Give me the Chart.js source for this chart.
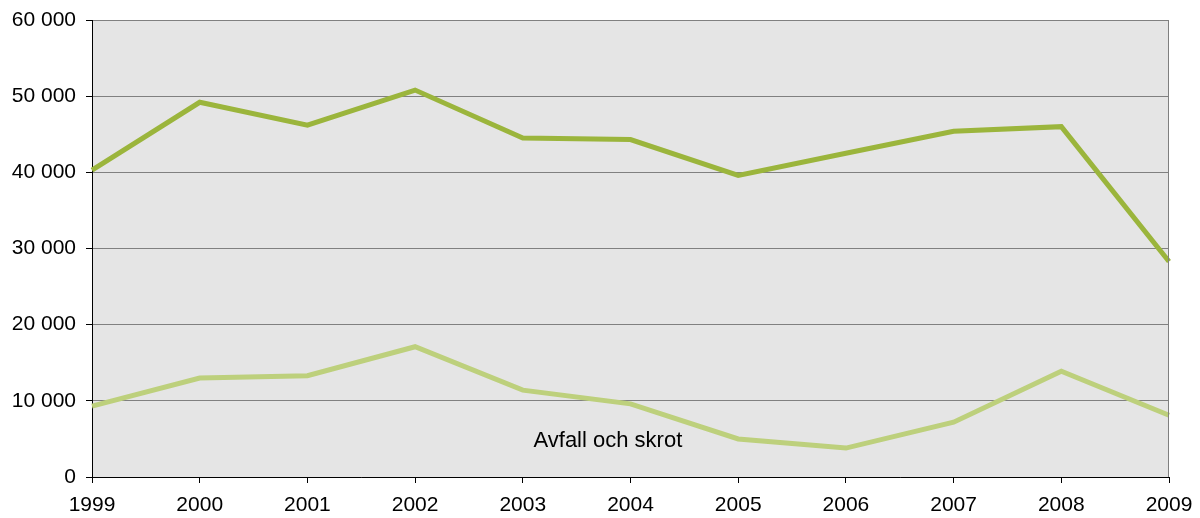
<!DOCTYPE html>
<html lang="sv">
<head>
  <meta charset="UTF-8" />
  <title>Avfall och skrot</title>
  <script src="https://cdn.jsdelivr.net/npm/chart.js"></script>
  <style>
    html, body { margin: 0; padding: 0; background: #ffffff; }
    #wrap { width: 1200px; height: 518px; }
  </style>
</head>
<body>
  <div id="wrap"><canvas id="chart"></canvas></div>
  <script>
    const years = ['1999', '2000', '2001', '2002', '2003', '2004', '2005', '2006', '2007', '2008', '2009'];
    const totalValues = [40300, 49200, 46200, 50800, 44500, 44300, 39600, 42500, 45400, 46000, 28300];
    const scrapValues = [9300, 13000, 13300, 17100, 11400, 9600, 5000, 3800, 7200, 13900, 8100];
    const scrapLabel = 'Avfall och skrot';
    const yTicks = [0, 10000, 20000, 30000, 40000, 50000, 60000];

    const fmt = v => String(v).replace(/\B(?=(\d{3})+(?!\d))/g, ' ');

    // grey plot background, right frame and in-chart series label
    const plotDecor = {
      id: 'plotDecor',
      beforeDraw(chart) {
        const { ctx, chartArea: a } = chart;
        ctx.save();
        ctx.fillStyle = '#e5e5e5';
        ctx.fillRect(a.left, a.top, a.right - a.left, a.bottom - a.top);
        ctx.restore();
      },
      afterDatasetsDraw(chart) {
        const { ctx, chartArea: a, scales } = chart;
        ctx.save();
        ctx.strokeStyle = '#7f7f7f';
        ctx.lineWidth = 1;
        ctx.beginPath();
        ctx.moveTo(a.right - 0.5, a.top);
        ctx.lineTo(a.right - 0.5, a.bottom);
        ctx.stroke();
        ctx.fillStyle = '#000000';
        ctx.font = '22px "Liberation Sans", Arial, sans-serif';
        ctx.textAlign = 'center';
        ctx.textBaseline = 'middle';
        ctx.fillText(scrapLabel, scales.x.getPixelForValue(4.79), scales.y.getPixelForValue(4700));
        ctx.restore();
      }
    };

    new Chart(document.getElementById('chart'), {
      type: 'line',
      data: {
        labels: years,
        datasets: [
          {
            label: 'Totalt',
            data: totalValues,
            borderColor: '#9bb53c',
            borderWidth: 5,
            pointRadius: 0,
            tension: 0
          },
          {
            label: scrapLabel,
            data: scrapValues,
            borderColor: '#bdd07c',
            borderWidth: 5,
            pointRadius: 0,
            tension: 0
          }
        ]
      },
      options: {
        responsive: true,
        maintainAspectRatio: false,
        animation: false,
        layout: { padding: { top: 20, right: 31, left: 0, bottom: 0 } },
        plugins: {
          legend: { display: false },
          tooltip: { enabled: false }
        },
        scales: {
          x: {
            offset: false,
            grid: { drawOnChartArea: false, drawTicks: true, tickLength: 6, color: '#000000' },
            border: { color: '#000000', width: 1 },
            ticks: {
              color: '#000000',
              padding: 10,
              maxRotation: 0,
              autoSkip: false,
              font: { family: '"Liberation Sans", Arial, sans-serif', size: 21 }
            },
            afterFit(scale) {
              scale.height = 41;
              scale.paddingLeft = 0;
              scale.paddingRight = 0;
            }
          },
          y: {
            min: 0,
            max: 60000,
            afterBuildTicks(scale) { scale.ticks = yTicks.map(v => ({ value: v })); },
            grid: { color: '#808080', lineWidth: 1, tickLength: 6, tickColor: '#000000' },
            border: { color: '#000000', width: 1 },
            ticks: {
              color: '#000000',
              padding: 10,
              callback: v => fmt(v),
              font: { family: '"Liberation Sans", Arial, sans-serif', size: 21 }
            },
            afterFit(scale) {
              scale.width = 92;
              scale.paddingTop = 0;
              scale.paddingBottom = 0;
            }
          }
        }
      },
      plugins: [plotDecor]
    });
  </script>
</body>
</html>
